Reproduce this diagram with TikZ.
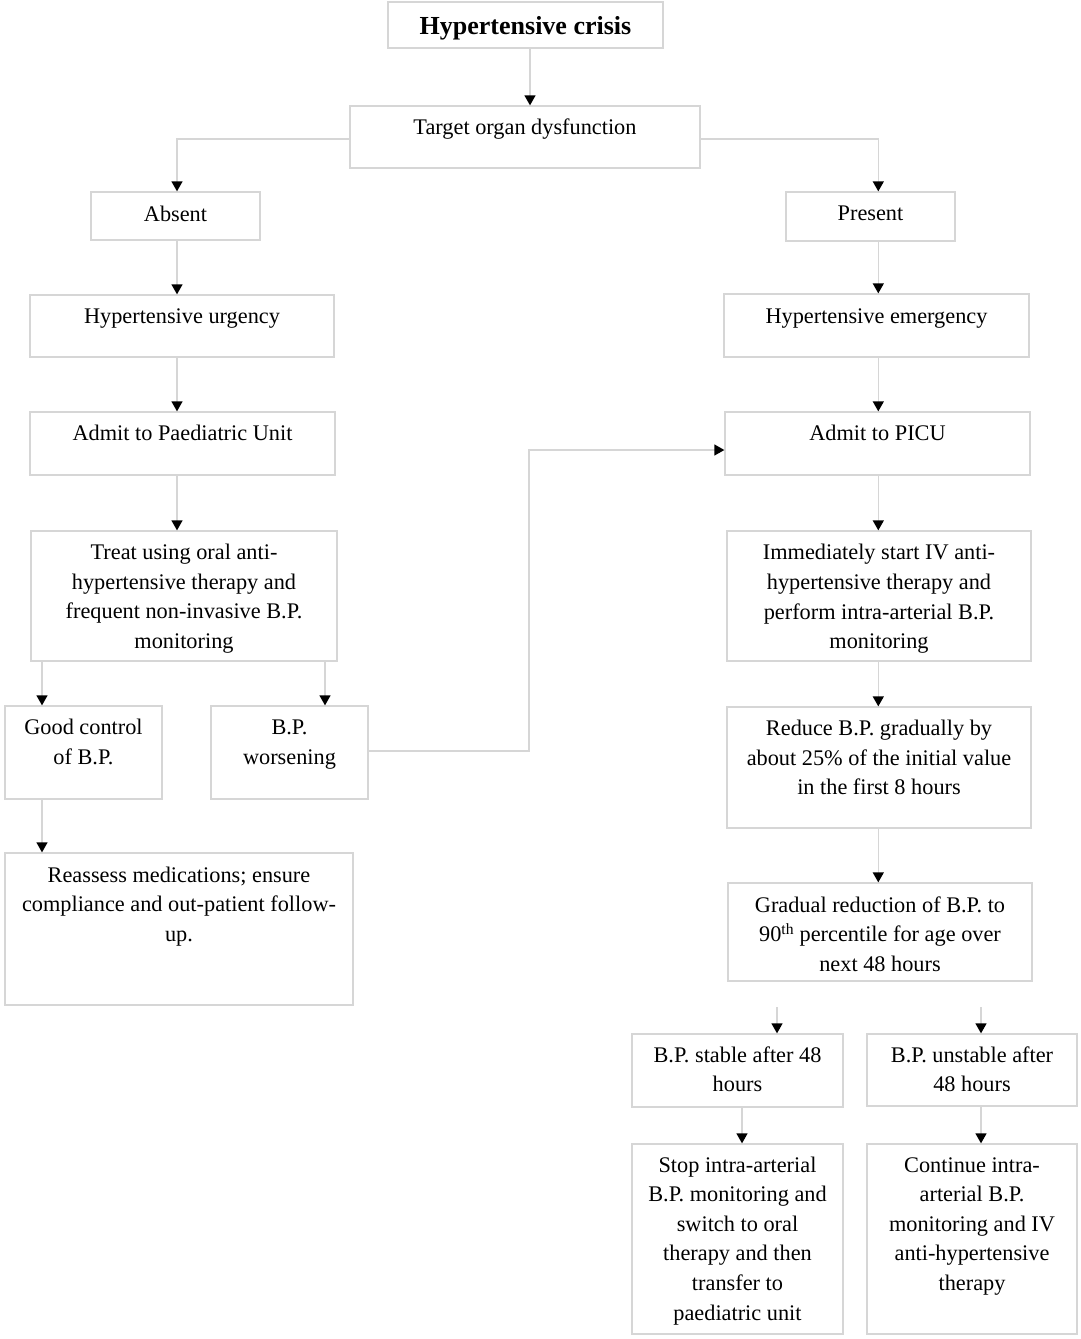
\documentclass[tikz,border=0pt]{standalone}
\usepackage{fontspec}
\setmainfont{Liberation Serif}
\usetikzlibrary{arrows.meta,calc}
\tikzset{
  box/.style={draw=boxgray, line width=1.3pt, inner sep=0pt, fill=white},
  txt/.style={inner sep=0pt, align=center, anchor=north, font=\fontsize{22.3}{29.6}\selectfont},
  ttl/.style={inner sep=0pt, align=center, anchor=north, font=\fontsize{26}{29.6}\selectfont\bfseries},
  conn/.style={draw=boxgray, line width=1.3pt, -{Triangle[width=11pt,length=10pt,color=black]}},
  line/.style={draw=boxgray, line width=1.3pt}
}
\definecolor{boxgray}{RGB}{214,214,214}
\begin{document}
\begin{tikzpicture}[x=1pt,y=-1pt]
\useasboundingbox[fill=white] (0,0) rectangle (1080,1339);
% boxes
\node[box, minimum width=275pt, minimum height=46pt] (crisis) at (525.5,25) {};
\node[box, minimum width=350pt, minimum height=62pt] (target) at (525,137) {};
\node[box, minimum width=169pt, minimum height=48pt] (absent) at (175.5,216) {};
\node[box, minimum width=169pt, minimum height=49pt] (present) at (870.5,216.5) {};
\node[box, minimum width=304pt, minimum height=62pt] (urgency) at (182,326) {};
\node[box, minimum width=305pt, minimum height=63pt] (emergency) at (876.5,325.5) {};
\node[box, minimum width=305pt, minimum height=63pt] (admitP) at (182.5,443.5) {};
\node[box, minimum width=305pt, minimum height=63pt] (picu) at (877.5,443.5) {};
\node[box, minimum width=306pt, minimum height=130pt] (treat) at (184,596) {};
\node[box, minimum width=304pt, minimum height=130pt] (immed) at (879,596) {};
\node[box, minimum width=157pt, minimum height=93pt] (good) at (83.5,752.5) {};
\node[box, minimum width=157pt, minimum height=93pt] (worse) at (289.5,752.5) {};
\node[box, minimum width=304pt, minimum height=121pt] (reduce) at (879,767.5) {};
\node[box, minimum width=348pt, minimum height=152pt] (reassess) at (179,929) {};
\node[box, minimum width=304pt, minimum height=98pt] (gradual) at (880,932) {};
\node[box, minimum width=211pt, minimum height=73pt] (stable) at (737.5,1070.5) {};
\node[box, minimum width=210pt, minimum height=72pt] (unstable) at (972,1070) {};
\node[box, minimum width=211pt, minimum height=190pt] (stop) at (737.5,1239) {};
\node[box, minimum width=210pt, minimum height=190pt] (cont) at (972,1239) {};
% texts
\node[ttl] (crisis-t) at (525.5,13.5) {\strut Hypertensive crisis};
\node[txt] (target-t) at (525,113.5) {\strut Target organ dysfunction};
\node[txt] (absent-t) at (175.5,200.2) {\strut Absent};
\node[txt] (present-t) at (870.5,199.8) {\strut Present};
\node[txt] (urgency-t) at (182,302.2) {\strut Hypertensive urgency};
\node[txt] (emergency-t) at (876.5,302.2) {\strut Hypertensive emergency};
\node[txt] (admitP-t) at (182.5,419.5) {\strut Admit to Paediatric Unit};
\node[txt] (picu-t) at (877.5,419.5) {\strut Admit to PICU};
\node[txt] (treat-t) at (184,538.5) {\strut Treat using oral anti-\\hypertensive therapy and\\frequent non-invasive B.P.\\monitoring};
\node[txt] (immed-t) at (879,539) {\strut Immediately start IV anti-\\hypertensive therapy and\\perform intra-arterial B.P.\\monitoring};
\node[txt] (good-t) at (83.5,713.8) {\strut Good control\\of B.P.};
\node[txt] (worse-t) at (289.5,713.8) {\strut B.P.\\worsening};
\node[txt] (reduce-t) at (879,714.5) {\strut Reduce B.P. gradually by\\about 25\% of the initial value\\in the first 8 hours};
\node[txt] (reassess-t) at (179,861.2) {\strut Reassess medications; ensure\\compliance and out-patient follow-\\up.};
\node[txt] (gradual-t) at (880,891.2) {\strut Gradual reduction of B.P. to\\90\textsuperscript{th} percentile for age over\\next 48 hours};
\node[txt] (stable-t) at (737.5,1041.2) {\strut B.P. stable after 48\\hours};
\node[txt] (unstable-t) at (972,1041.2) {\strut B.P. unstable after\\48 hours};
\node[txt] (stop-t) at (737.5,1151.2) {\strut Stop intra-arterial\\B.P. monitoring and\\switch to oral\\therapy and then\\transfer to\\paediatric unit};
\node[txt] (cont-t) at (972,1151.2) {\strut Continue intra-\\arterial B.P.\\monitoring and IV\\anti-hypertensive\\therapy};
% column coordinates
\coordinate (colM) at (530,0);
\coordinate (colL) at (177,0);
\coordinate (colR) at (878.3,0);
\coordinate (cg) at (42,0);
\coordinate (cw) at (325,0);
\coordinate (cs) at (742,0);
\coordinate (cu) at (981,0);
\coordinate (jx) at (529,751);
\coordinate (jy) at (0,450);
\coordinate (s1) at (777,1007);
\coordinate (u1) at (981,1007);
% connectors
\draw[conn] (crisis.south -| colM) -- (target.north -| colM);
\draw[conn] ([yshift=-2pt]target.west) -| (absent.north -| colL);
\draw[conn] ([yshift=-2pt]target.east) -| (present.north -| colR);
\draw[conn] (absent.south -| colL) -- (urgency.north -| colL);
\draw[conn] (urgency.south -| colL) -- (admitP.north -| colL);
\draw[conn] (admitP.south -| colL) -- (treat.north -| colL);
\draw[conn] (treat.south -| cg) -- (good.north -| cg);
\draw[conn] (treat.south -| cw) -- (worse.north -| cw);
\draw[conn] (good.south -| cg) -- (reassess.north -| cg);
\draw[conn] (worse.east |- jx) -- (jx) |- (picu.west |- jy);
\draw[conn] (present.south -| colR) -- (emergency.north -| colR);
\draw[conn] (emergency.south -| colR) -- (picu.north -| colR);
\draw[conn] (picu.south -| colR) -- (immed.north -| colR);
\draw[conn] (immed.south -| colR) -- (reduce.north -| colR);
\draw[conn] (reduce.south -| colR) -- (gradual.north -| colR);
\draw[conn] (s1) -- (stable.north -| s1);
\draw[conn] (u1) -- (unstable.north -| u1);
\draw[conn] (stable.south -| cs) -- (stop.north -| cs);
\draw[conn] (unstable.south -| cu) -- (cont.north -| cu);
\end{tikzpicture}
\end{document}
